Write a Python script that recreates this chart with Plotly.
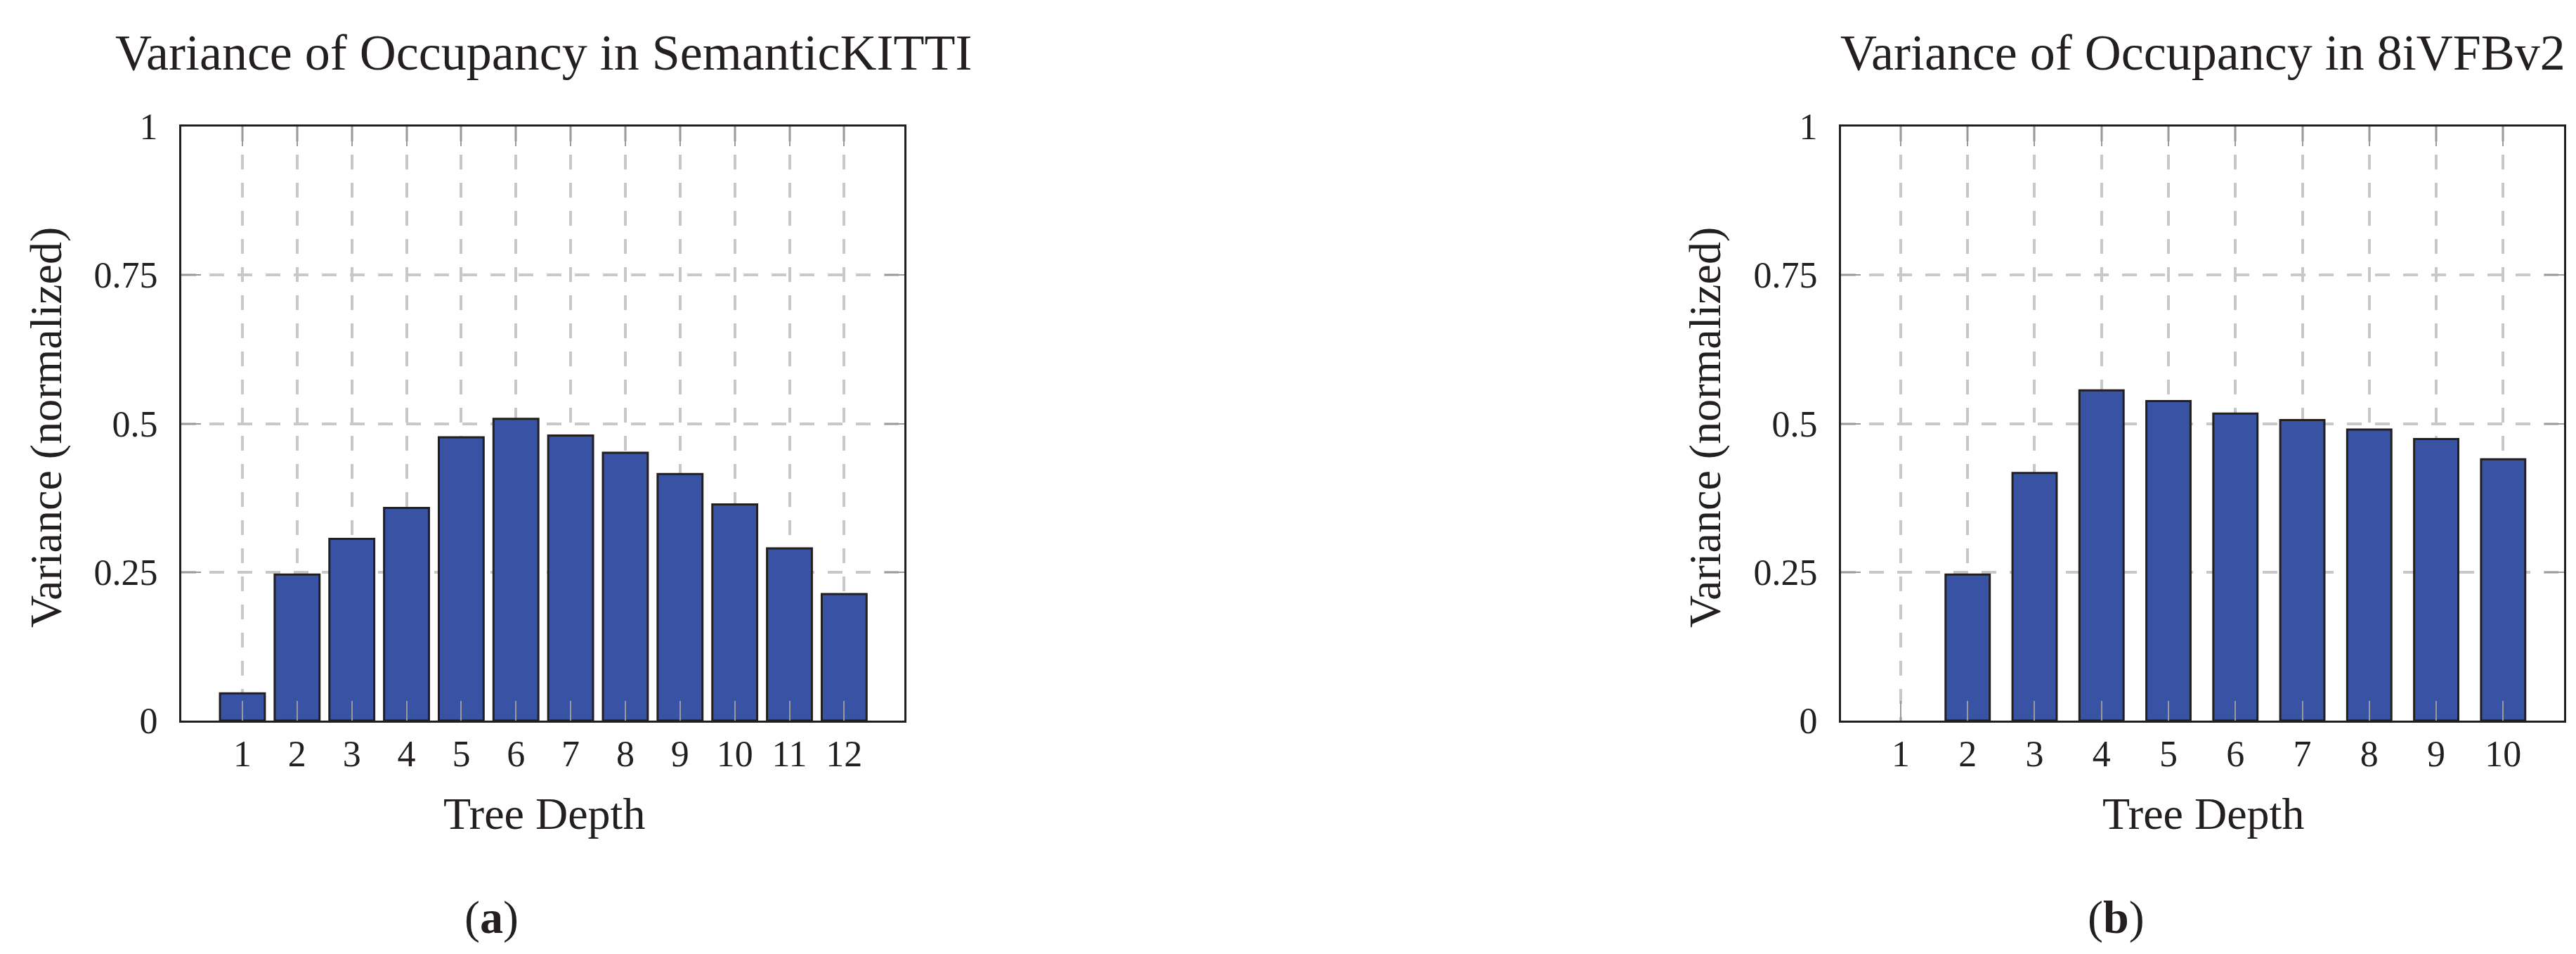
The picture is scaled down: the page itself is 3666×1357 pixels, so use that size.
import plotly.graph_objects as go

# data
depth_kitti = list(range(1, 13))
var_kitti = [0.046, 0.246, 0.306, 0.358, 0.477, 0.508, 0.480, 0.451, 0.415, 0.364, 0.290, 0.213]

depth_8i = list(range(1, 11))
var_8i = [0.0, 0.246, 0.417, 0.556, 0.538, 0.517, 0.506, 0.490, 0.474, 0.440]

y_ticks = [0, 0.25, 0.5, 0.75, 1]
y_ticktext = ["0", "0.25", "0.5", "0.75", "1"]

W, H = 3666, 1357
FONT = "Liberation Serif"
INK = "#231f20"
BAR = "#3853a4"

fig = go.Figure()
fig.add_trace(go.Bar(x=depth_kitti, y=var_kitti, width=0.82,
                     marker=dict(color=BAR, line=dict(color=INK, width=3)),
                     xaxis="x", yaxis="y", showlegend=False))
# empty depth-1 bar: no outline so nothing shows on the axis
fig.add_trace(go.Bar(x=depth_8i, y=var_8i, width=0.66,
                     marker=dict(color=BAR, line=dict(color=INK,
                                 width=[0 if v == 0 else 3 for v in var_8i])),
                     xaxis="x2", yaxis="y2", showlegend=False))

# common axis styling (pgfplots look: framed box, dashed grey grid, inner ticks)
ax = dict(showline=True, linecolor=INK, linewidth=3, mirror="ticks",
          ticks="inside", ticklen=28, tickwidth=1.5, tickcolor="#9a9a9a",
          showgrid=True, gridcolor="#c8c8c8", gridwidth=3.5, griddash="21px,19px",
          zeroline=False, automargin=False,
          tickfont=dict(family=FONT, size=52, color=INK))

y_dom = [1 - 1017 / H, 1 - 172 / H]
fig.update_layout(
    xaxis=dict(ax, domain=[250 / W, 1279 / W], range=[-0.117, 13.1],
               tickvals=depth_kitti, anchor="y"),
    yaxis=dict(ax, domain=y_dom, range=[0, 1], tickvals=y_ticks,
               ticktext=y_ticktext, anchor="x", ticklabelstandoff=20),
    xaxis2=dict(ax, domain=[2612 / W, 3641 / W], range=[0.108, 10.91],
                tickvals=depth_8i, anchor="y2"),
    yaxis2=dict(ax, domain=y_dom, range=[0, 1], tickvals=y_ticks,
                ticktext=y_ticktext, anchor="x2", ticklabelstandoff=20),
    width=W, height=H, autosize=False,
    margin=dict(l=0, r=0, t=0, b=0, autoexpand=False),
    plot_bgcolor="white", paper_bgcolor="white",
    font=dict(family=FONT, color=INK),
    showlegend=False,
)

def note(text, x, y, size, angle=0):
    fig.add_annotation(text=text, x=x, y=y, xref="paper", yref="paper",
                       xanchor="center", yanchor="middle", showarrow=False,
                       textangle=angle, font=dict(family=FONT, size=size, color=INK))

note("Variance of Occupancy in SemanticKITTI", 765 / W, 1 - 67 / H, 72)
note("Variance of Occupancy in 8iVFBv2", 3127 / W, 1 - 67 / H, 72)
note("Tree Depth", 766 / W, 1 - 1149 / H, 64)
note("Tree Depth", 3127 / W, 1 - 1149 / H, 64)
note("Variance (normalized)", 57 / W, 1 - 600 / H, 64, -90)
note("Variance (normalized)", 2418 / W, 1 - 600 / H, 64, -90)
note("(<b>a</b>)", 691 / W, 1 - 1297 / H, 66)
note("(<b>b</b>)", 3003 / W, 1 - 1297 / H, 66)

fig.write_html("out.html")
